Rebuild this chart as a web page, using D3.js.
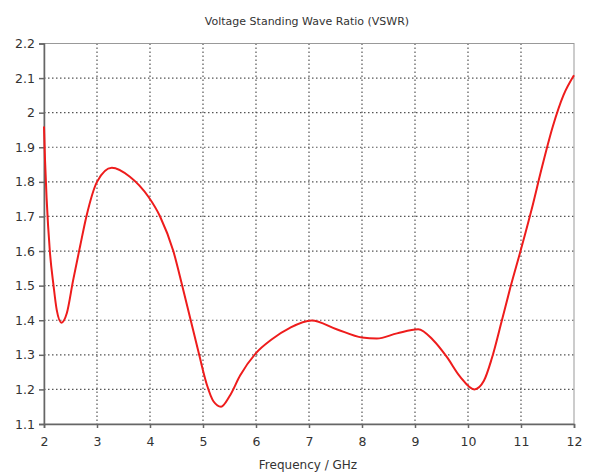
<!DOCTYPE html>
<html>
<head>
<meta charset="utf-8">
<script src="https://cdn.jsdelivr.net/npm/d3@7"></script>
<style>
  body { margin: 0; background: #fff; }
  text { font-family: "DejaVu Sans", sans-serif; fill: #333; }
</style>
</head>
<body>
<div id="chart"></div>
<script>
const width = 591;
const height = 475;

// frequency (GHz) and VSWR
const freq = [2.0, 2.02, 2.05, 2.11, 2.18, 2.24, 2.33, 2.43, 2.55, 2.68, 2.8, 3.0, 3.28, 3.62, 3.97,
    4.19, 4.44, 4.6, 4.76, 4.92, 5.07, 5.2, 5.34, 5.5, 5.7, 6.0, 6.3, 6.64, 7.05, 7.52, 8.0, 8.28, 8.66, 9.06,
    9.34, 9.6, 9.85, 10.12, 10.3, 10.45, 10.64, 10.8, 11.0, 11.2, 11.4, 11.6, 11.8, 12.0];
const vswr = [1.96, 1.86, 1.75, 1.60, 1.50, 1.43, 1.393, 1.42, 1.516, 1.613, 1.70, 1.80, 1.841, 1.815, 1.757,
    1.70, 1.60, 1.505, 1.405, 1.305, 1.215, 1.165, 1.15, 1.18, 1.24, 1.305, 1.345, 1.378, 1.399, 1.374, 1.35, 1.347, 1.362, 1.374,
    1.343, 1.294, 1.237, 1.20, 1.225, 1.29, 1.40, 1.495, 1.605, 1.72, 1.845, 1.96, 2.05, 2.108];

const xTicks = [2, 3, 4, 5, 6, 7, 8, 9, 10, 11, 12];
const yTicks = [1.1, 1.2, 1.3, 1.4, 1.5, 1.6, 1.7, 1.8, 1.9, 2, 2.1, 2.2];

const margin = { top: 43.5, right: 17, bottom: 51, left: 44 };

const svg = d3.select("#chart")
    .append("svg")
    .attr("width", width)
    .attr("height", height);

const x = d3.scaleLinear().domain([2, 12]).range([margin.left, width - margin.right]);
const y = d3.scaleLinear().domain([1.1, 2.2]).range([height - margin.bottom, margin.top]);

// dotted grid
svg.append("g")
    .selectAll("line")
    .data(xTicks.slice(1, -1))
    .join("line")
    .attr("x1", d => x(d)).attr("x2", d => x(d))
    .attr("y1", y(2.2)).attr("y2", y(1.1))
    .attr("stroke", "#555")
    .attr("stroke-width", 1.2)
    .attr("stroke-dasharray", "1.5,2.5");

svg.append("g")
    .selectAll("line")
    .data(yTicks.slice(1, -1))
    .join("line")
    .attr("x1", x(2)).attr("x2", x(12))
    .attr("y1", d => y(d)).attr("y2", d => y(d))
    .attr("stroke", "#555")
    .attr("stroke-width", 1.2)
    .attr("stroke-dasharray", "1.5,2.5");

// frame
svg.append("rect")
    .attr("x", x(2)).attr("y", y(2.2))
    .attr("width", x(12) - x(2)).attr("height", y(1.1) - y(2.2))
    .attr("fill", "none")
    .attr("stroke", "#999");

// axes
const xAxis = svg.append("g")
    .attr("transform", `translate(0,${y(1.1)})`)
    .call(d3.axisBottom(x).tickValues(xTicks).tickFormat(d3.format("d")).tickSize(4).tickPadding(9));

const yAxis = svg.append("g")
    .attr("transform", `translate(${x(2)},0)`)
    .call(d3.axisLeft(y).tickValues(yTicks).tickFormat(d => String(+d.toFixed(1))).tickSize(5).tickPadding(4));

[xAxis, yAxis].forEach(a => {
    a.select(".domain").attr("stroke", "#666").attr("stroke-width", 1.5);
    a.selectAll(".tick line").attr("stroke", "#666").attr("stroke-width", 1.5);
    a.selectAll(".tick text").attr("font-size", 12.5).attr("fill", "#333")
        .attr("font-family", "DejaVu Sans, sans-serif");
});

// curve
const line = d3.line()
    .x((d, i) => x(freq[i]))
    .y(d => y(d))
    .curve(d3.curveMonotoneX);

svg.append("path")
    .datum(vswr)
    .attr("d", line)
    .attr("fill", "none")
    .attr("stroke", "#ee1c1c")
    .attr("stroke-width", 2);

// titles
svg.append("text")
    .attr("x", 307).attr("y", 25)
    .attr("text-anchor", "middle")
    .attr("font-size", 11)
    .text("Voltage Standing Wave Ratio (VSWR)");

svg.append("text")
    .attr("x", 308).attr("y", 469)
    .attr("text-anchor", "middle")
    .attr("font-size", 12)
    .text("Frequency / GHz");
</script>
</body>
</html>
